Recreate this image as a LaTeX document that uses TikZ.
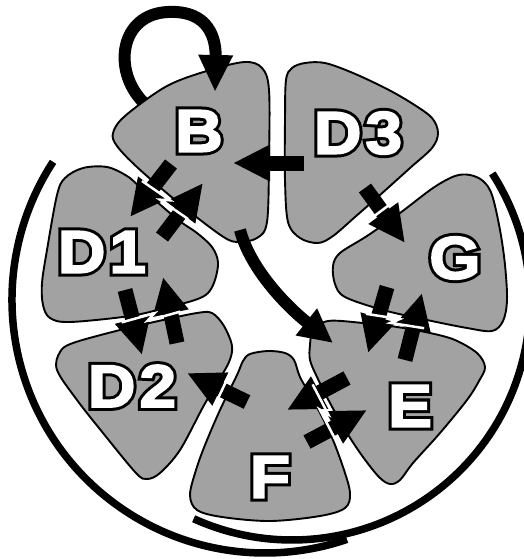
\documentclass[tikz,border=0pt]{standalone}
\usepackage{fontspec}
\setmainfont{Liberation Sans}
\usetikzlibrary{arrows.meta}
\definecolor{blobgray}{RGB}{162,162,162}
\begin{document}
\begin{tikzpicture}[x=1pt,y=-1pt,
  blob/.style={fill=blobgray, draw=black, line width=1.9pt},
  fat/.style={line width=15pt, -{Triangle[length=37pt,width=34pt]}},
  gapline/.style={white, line width=2.5pt},
  ring/.style={line width=7.5pt},
  lblback/.style={inner sep=0pt, font=\fontsize{60}{60}\selectfont\bfseries\addfontfeatures{FakeStretch=1.1,FakeBold=13}, text=black},
  lblfront/.style={inner sep=0pt, font=\fontsize{60}{60}\selectfont\bfseries\addfontfeatures{FakeStretch=1.1,FakeBold=3}, text=white}
]
\useasboundingbox (0,0) rectangle (524,559);
% blobs
\draw[blob] plot[smooth cycle, tension=0.55] coordinates {(113,133) (125,116) (167,86) (210,70) (245,62) (262,68) (269,90) (269,160) (267,222) (257,238) (238,242) (222,236) (180,204) (138,168) (117,146)};
\draw[blob] plot[smooth cycle, tension=0.55] coordinates {(286,80) (292,68) (305,63) (325,63) (353,73) (387,89) (413,104) (432,118) (438,133) (432,148) (410,168) (380,195) (355,217) (333,236) (318,243) (300,238) (288,222) (285,180) (285,120)};
\draw[blob] plot[smooth cycle, tension=0.55] coordinates {(340,253) (367,236) (400,213) (433,188) (455,176) (470,175) (483,181) (492,195) (500,230) (505,265) (507,300) (503,321) (492,331) (467,328) (427,320) (383,310) (345,297) (335,284) (333,266)};
\draw[blob] plot[smooth cycle, tension=0.55] coordinates {(310,345) (313,331) (328,321) (363,323) (397,327) (430,333) (455,340) (477,353) (485,367) (479,381) (467,400) (440,433) (413,463) (400,480) (390,484) (379,477) (363,457) (347,433) (330,403) (317,377) (310,360)};
\draw[blob] plot[smooth cycle, tension=0.55] coordinates {(250,354) (268,351) (285,353) (294,360) (300,377) (313,400) (330,433) (343,467) (350,493) (345,508) (320,516) (270,521) (222,517) (197,510) (190,495) (196,470) (205,445) (220,410) (237,375) (243,361)};
\draw[blob] plot[smooth cycle, tension=0.55] coordinates {(60,352) (73,343) (120,330) (163,320) (197,313) (212,313) (224,326) (232,346) (229,362) (217,383) (203,407) (180,450) (160,473) (147,479) (136,473) (103,433) (77,400) (57,370)};
\draw[blob] plot[smooth cycle, tension=0.55] coordinates {(57,195) (65,178) (83,168) (107,167) (127,176) (140,187) (177,219) (197,233) (212,247) (218,262) (215,280) (208,293) (195,300) (165,308) (130,316) (70,322) (50,318) (43,305) (42,283) (47,250)};
% rings
\draw[ring] ([shift={(-146.9:253)}]265,300) arc[start angle=-146.9, end angle=-288.9, radius=253];
\draw[ring] ([shift={(-32.7:238)}]292,302) arc[start angle=-32.7, end angle=114.4, radius=238];
% arrow end points
\coordinate (bl0) at (143,102); \coordinate (bl1) at (215,92);
\coordinate (bd1a) at (171,164); \coordinate (bd1b) at (130,217);
\coordinate (d1ba) at (162,237); \coordinate (d1bb) at (203,183);
\coordinate (d3ba) at (304,163); \coordinate (d3bb) at (233,163);
\coordinate (d3ga) at (365,188); \coordinate (d3gb) at (405,243);
\coordinate (bea) at (240,230); \coordinate (beb) at (333,343);
\coordinate (gea) at (387,287); \coordinate (geb) at (368,353);
\coordinate (ega) at (405,360); \coordinate (egb) at (422,293);
\coordinate (efa) at (347,378); \coordinate (efb) at (287,410);
\coordinate (fea) at (307,442); \coordinate (feb) at (367,410);
\coordinate (fda) at (247,402); \coordinate (fdb) at (187,373);
\coordinate (d12a) at (125,290); \coordinate (d12b) at (142,355);
\coordinate (d21a) at (177,343); \coordinate (d21b) at (163,277);
% arrows
\draw[line width=12pt, -{Triangle[length=37pt,width=32pt]}] (bl0) .. controls (112,70) and (120,14) .. (168,12) .. controls (210,10) and (216,40) .. (bl1);
\draw[fat] (bd1a) -- (bd1b);
\draw[fat] (d1ba) -- (d1bb);
\draw[fat] (d3ba) -- (d3bb);
\draw[fat] (d3ga) -- (d3gb);
\draw[line width=12pt, -{Triangle[length=34pt,width=32pt]}] (bea) .. controls (250,268) and (285,305) .. (beb);
\draw[fat] (gea) -- (geb);
\draw[fat] (ega) -- (egb);
\draw[fat] (efa) -- (efb);
\draw[fat] (fea) -- (feb);
\draw[fat] (fda) -- (fdb);
\draw[fat] (d12a) -- (d12b);
\draw[fat] (d21a) -- (d21b);
% gaps with lightning
\draw[gapline] (142,181) -- (170.0,200.3) -- (160.0,199.7) -- (188,219);
\draw[gapline] (121.6,322.4) -- (154.4,313.3) -- (147.6,320.7) -- (180.4,311.6);
\draw[gapline] (366,313.8) -- (399.6,319.1) -- (390.4,322.9) -- (424.1,328.2);
\draw[gapline] (312.6,384.4) -- (328.3,414.5) -- (319.7,409.5) -- (335.4,439.6);
\draw[gapline] (365.8,222.4) -- (388.2,205.6);
\draw[gapline] (228,377.4) -- (216,402.6);
% labels
\node[lblback] (Bo)  at (199,131) {B};
\node[lblfront] (B)  at (199,131) {B};
\node[lblback] (D3o) at (358,133) {D\kern4pt 3};
\node[lblfront] (D3) at (358,133) {D\kern4pt 3};
\node[lblback] (Go)  at (455,258) {G};
\node[lblfront] (G)  at (455,258) {G};
\node[lblback] (D1o) at (102,252) {D\kern4pt 1};
\node[lblfront] (D1) at (102,252) {D\kern4pt 1};
\node[lblback] (D2o) at (132,386) {D\kern4pt 2};
\node[lblfront] (D2) at (132,386) {D\kern4pt 2};
\node[lblback] (Eo)  at (410,406) {E};
\node[lblfront] (E)  at (410,406) {E};
\node[lblback] (Fo)  at (270,477) {F};
\node[lblfront] (F)  at (270,477) {F};
\end{tikzpicture}
\end{document}
